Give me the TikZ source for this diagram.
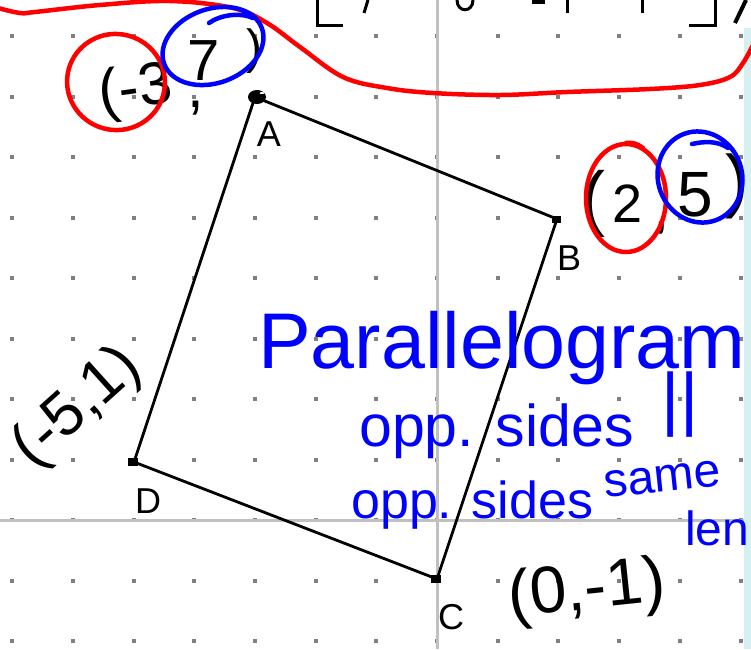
\documentclass[tikz,border=0pt]{standalone}
\usepackage{fontspec}
\setmainfont{Liberation Sans}
\definecolor{penblue}{RGB}{0,0,255}
\definecolor{penred}{RGB}{255,0,0}
\definecolor{gridgray}{RGB}{128,128,128}
\definecolor{axisgray}{RGB}{192,192,192}
\definecolor{cyanstrip}{RGB}{214,239,240}
\begin{document}
\begin{tikzpicture}[x=1pt,y=-1pt,
  hand/.style={line width=4.5pt, line cap=round, line join=round},
  edge/.style={line width=2.8pt, black},
  frag/.style={line width=3pt, black},
  lab/.style={inner sep=0pt, font=\fontsize{36}{36}\selectfont},
  ink/.style={inner sep=0pt, text=black},
  bluetxt/.style={inner sep=0pt, text=penblue},
]
\useasboundingbox (0,0) rectangle (751,649);
\clip (0,0) rectangle (751,649);
\fill[white] (0,0) rectangle (751,649);
\fill[cyanstrip] (744,28) rectangle (751,649);
% grid dots
\foreach \i in {-7,...,5} {
  \foreach \j in {-2,...,8} {
    \fill[gridgray] ({437+60.7*\i-2},{520-60.5*\j-2}) rectangle +(4,4);
  }
}
% axes
\draw[axisgray, line width=3pt] (437,0) -- (437,649);
\draw[axisgray, line width=3pt] (0,520) -- (744,520);
% clipped fragments of a row above the view
\draw[frag] (317,0) -- (317,25) -- (343,25);
\draw[frag] (368,0) -- (364,13);
\draw[frag] (457,0) .. controls (457,13) and (473,13) .. (473,0);
\fill[black] (532,0) rectangle (545,4);
\draw[frag] (567,0) -- (567,13);
\draw[frag] (642,0) -- (642,13);
\draw[frag] (689,25) -- (715,25) -- (715,0);
\draw[line width=4pt] (746,0) -- (735,23);
% red enclosing curve
\draw[penred, hand] plot[smooth, tension=0.6] coordinates {(-2,8) (20,13) (35,12) (100,5) (170,1) (233,8) (267,23) (300,47) (343,77) (387,88) (433,93) (500,95) (567,92) (650,89) (700,85) (730,77) (743,63) (753,45)};
% parallelogram
\coordinate (A) at (255,97);
\coordinate (B) at (557,219);
\coordinate (C) at (437,579);
\coordinate (D) at (134,462);
\draw[edge] (A) -- (B) -- (C) -- (D) -- cycle;
\fill[black] (257,97) ellipse [x radius=9pt, y radius=7pt];
\fill[white] (262,93) ellipse [x radius=2.5pt, y radius=1pt];
\fill[black] (B) ++(-5,-3) rectangle ++(9,7);
\fill[black] (C) ++(-6,-4) rectangle ++(10,8);
\fill[black] (D) ++(-6,-4) rectangle ++(10,8);
\node[lab] (labA) at (269,134) {A};
\node[lab] (labB) at (569,258) {B};
\node[lab] (labC) at (451,617) {C};
\node[lab] (labD) at (148,501) {D};
% handwritten coordinates
\node[ink, rotate=8, font=\fontsize{60}{60}\selectfont] (m3) at (136,92) {(-3};
\node[ink, font=\fontsize{58}{58}\selectfont] (s7) at (204,61) {7};
\node[ink, font=\fontsize{60}{60}\selectfont] (c7) at (196,108) {,};
\node[ink, font=\fontsize{48}{48}\selectfont] (r7) at (254,51) {)};
\node[ink, font=\fontsize{72}{72}\selectfont] (l25) at (593,204) {(};
\node[ink, font=\fontsize{54}{54}\selectfont] (t2) at (628,204) {2};
\node[ink, font=\fontsize{52}{52}\selectfont] (c25) at (662,228) {,};
\node[ink, font=\fontsize{64}{64}\selectfont] (f5) at (695,195) {5};
\node[ink, font=\fontsize{70}{70}\selectfont] (r25) at (737,186) {)};
\node[ink, rotate=42, font=\fontsize{62}{62}\selectfont] (p51) at (78,408) {(-5,1)};
\node[ink, rotate=6, font=\fontsize{66}{66}\selectfont] (p01) at (587,592) {(0,-1)};
% circles
\draw[penred, hand, rotate around={-15:(116,82)}] (116,82) ellipse [x radius=49pt, y radius=48pt];
\draw[penblue, hand, rotate around={20:(213,46)}] (213,46) ellipse [x radius=52pt, y radius=37pt];
\draw[penblue, hand] (209,23) .. controls (220,15) and (240,12) .. (253,18);
\draw[penred, hand] (626,198) ellipse [x radius=40pt, y radius=54pt];
\draw[penred, hand] (626,143) .. controls (632,142) and (638,144) .. (643,148);
\draw[penblue, hand, rotate around={20:(700,177)}] (700,177) ellipse [x radius=42pt, y radius=46pt];
\draw[penblue, hand] (692,144) .. controls (705,141) and (718,141) .. (728,148);
% blue notes
\node[bluetxt, anchor=base west, font=\fontsize{79}{79}\selectfont] (title) at (258,368) {Parallelogram};
\node[bluetxt, anchor=base west, font=\fontsize{59}{59}\selectfont] (l2) at (359,446) {opp. sides};
\node[bluetxt, font=\fontsize{70}{70}\selectfont] (par) at (680,405) {||};
\node[bluetxt, anchor=base west, font=\fontsize{52}{52}\selectfont] (l3) at (351,518) {opp. sides};
\node[bluetxt, anchor=base west, rotate=6, font=\fontsize{48}{48}\selectfont] (same) at (605,498) {same};
\node[bluetxt, anchor=base west, font=\fontsize{48}{48}\selectfont] (leng) at (685,545) {length};
\end{tikzpicture}
\end{document}
